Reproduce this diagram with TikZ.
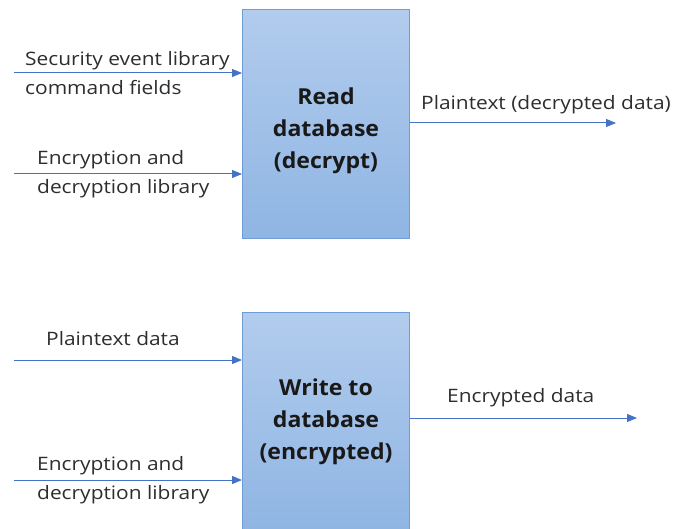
\documentclass[tikz,border=0pt]{standalone}
\usepackage{fontspec}
\setmainfont{Open Sans}[FakeStretch=1.13]
\newfontfamily\blockfont{Open Sans}[FakeStretch=1.05]
\usetikzlibrary{arrows.meta,positioning}
\definecolor{linkblue}{RGB}{68,114,196}
\definecolor{boxtop}{RGB}{178,204,237}
\definecolor{boxbot}{RGB}{143,181,227}
\definecolor{boxedge}{RGB}{112,156,214}
\definecolor{inktext}{RGB}{45,45,45}
\newcommand{\toppad}{\rule{0pt}{31pt}}
\tikzset{
	>={Triangle[length=10pt,width=8pt]},
	block/.style = {
			draw            = boxedge,
			line width      = 1pt,
			top color       = boxtop,
			bottom color    = boxbot,
			minimum width   = 167pt,
			inner sep       = 0pt,
			align           = center,
			anchor          = north west,
			text            = black!90,
			font            = \blockfont\fontsize{22}{32}\selectfont\bfseries,
		},
	flow/.style = {->, draw=linkblue, line width=1pt},
	lbl/.style = {
			anchor     = west,
			inner sep  = 0pt,
			align      = left,
			text       = inktext,
			font       = \fontsize{18.5}{28.5}\selectfont,
		}
}

\begin{document}
\begin{tikzpicture}[x=1pt,y=-1pt]
	\useasboundingbox (0,0) rectangle (676,529);

	% read block
	\node[block, minimum height=229pt] (read) at (242,9) {\toppad Read\\database\\(decrypt)};
	\coordinate (r-in1) at (14,73);
	\coordinate (r-in2) at (14,174);
	\coordinate (r-out) at (616,123);
	\draw[flow] (r-in1) -- (r-in1 -| read.west);
	\draw[flow] (r-in2) -- (r-in2 -| read.west);
	\draw[flow] (r-out -| read.east) -- (r-out);
	\node[lbl] (r-lbl1) at (25,73) {Security event library\\command fields};
	\node[lbl] (r-lbl2) at (37,174) {Encryption and\\decryption library};
	\node[lbl] (r-lbl3) at (421,105) {Plaintext (decrypted data)};

	% write block
	\node[block, minimum height=218pt] (write) at (242,312) {Write to\\database\\(encrypted)};
	\coordinate (w-in1) at (14,360);
	\coordinate (w-in2) at (14,480);
	\coordinate (w-out) at (637,418);
	\draw[flow] (w-in1) -- (w-in1 -| write.west);
	\draw[flow] (w-in2) -- (w-in2 -| write.west);
	\draw[flow] (w-out -| write.east) -- (w-out);
	\node[lbl] (w-lbl1) at (46,339) {Plaintext data};
	\node[lbl] (w-lbl2) at (37,480) {Encryption and\\decryption library};
	\node[lbl] (w-lbl3) at (447,398) {Encrypted data};
\end{tikzpicture}
\end{document}
